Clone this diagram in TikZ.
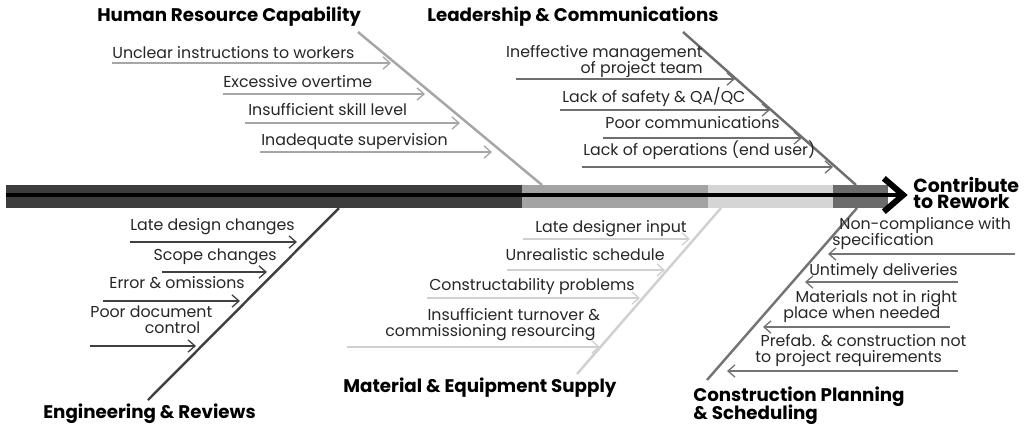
\documentclass[tikz,border=0pt]{standalone}
\usepackage{fontspec}
\setmainfont{Poppins}
\usetikzlibrary{arrows.meta}
\setlength{\lineskiplimit}{-20pt}
\definecolor{spineDark}{HTML}{3D3D3D}
\definecolor{spineMid}{HTML}{A3A3A3}
\definecolor{spineLight}{HTML}{D5D5D5}
\definecolor{spineGrey}{HTML}{6B6B6B}
\definecolor{hrGrey}{HTML}{A6A6A6}
\definecolor{leadGrey}{HTML}{6E6E6E}
\definecolor{engGrey}{HTML}{404040}
\definecolor{matGrey}{HTML}{D0D0D0}
\definecolor{conGrey}{HTML}{747474}
\begin{document}
\begin{tikzpicture}[x=0.02cm, y=-0.02cm,
  cause/.style={font=\fontsize{9}{8.8}\selectfont, inner sep=0pt, text=black!85, align=left},
  bonetitle/.style={font=\fontsize{10.4}{9.8}\selectfont\bfseries, inner sep=0pt, align=left},
  effectlabel/.style={font=\fontsize{10.8}{8.6}\selectfont\bfseries, inner sep=0pt, align=left},
  bone/.style={line width=1.4pt},
  causearrow/.style={line width=0.75pt, -{Straight Barb[length=4pt,width=7pt]}}]
  \useasboundingbox (0,0) rectangle (1032,424);

  \coordinate (hrTop) at (358,32);
  \coordinate (hrFoot) at (542,185);
  \coordinate (leadTop) at (683,32);
  \coordinate (leadFoot) at (856,185);
  \coordinate (engTop) at (339,208);
  \coordinate (engFoot) at (148,400);
  \coordinate (matTop) at (721,208);
  \coordinate (matFoot) at (577,374);
  \coordinate (conTop) at (857,208);
  \coordinate (conFoot) at (707,380);
  \draw[bone, hrGrey] (hrTop) -- (hrFoot);
  \draw[bone, leadGrey] (leadTop) -- (leadFoot);
  \draw[bone, engGrey] (engTop) -- (engFoot);
  \draw[bone, matGrey] (matTop) -- (matFoot);
  \draw[bone, conGrey] (conTop) -- (conFoot);

  \fill[spineDark] (6,185) rectangle (522,208);
  \fill[spineMid] (522,185) rectangle (708,208);
  \fill[spineLight] (708,185) rectangle (833,208);
  \fill[spineGrey] (833,185) rectangle (888,208);
  \coordinate (tail) at (6,195);
  \node[effectlabel, anchor=base west] (effect) at (913,208) {Contribute\\to Rework};
  \draw[line width=2.8pt, shorten >=3pt, -{Straight Barb[length=11pt,width=19pt,line width=3.4pt]}] (tail) -- (tail -| effect.west);

  \node[bonetitle, anchor=base west] (hr) at (97,21) {Human Resource Capability};
  \node[bonetitle, anchor=base west] (lead) at (427,21) {Leadership \& Communications};
  \node[bonetitle, anchor=base west] (eng) at (43,418) {Engineering \& Reviews};
  \node[bonetitle, anchor=base west] (mat) at (343,392) {Material \& Equipment Supply};
  \node[bonetitle, anchor=base west] (con) at (693,419) {Construction Planning\\\& Scheduling};

  \node[cause, anchor=base west] (hr1) at (112,58) {Unclear instructions to workers};
  \node[cause, anchor=base west] (hr2) at (223,87) {Excessive overtime};
  \node[cause, anchor=base west] (hr3) at (248,115) {Insufficient skill level};
  \node[cause, anchor=base west] (hr4) at (261,145) {Inadequate supervision};
  \coordinate (hr1a) at (112,63);
  \coordinate (hr1b) at (391,63);
  \coordinate (hr2a) at (223,94);
  \coordinate (hr2b) at (425,94);
  \coordinate (hr3a) at (245,123);
  \coordinate (hr3b) at (460,123);
  \coordinate (hr4a) at (260,152);
  \coordinate (hr4b) at (492,152);
  \draw[causearrow, hrGrey] (hr1a) -- (hr1b);
  \draw[causearrow, hrGrey] (hr2a) -- (hr2b);
  \draw[causearrow, hrGrey] (hr3a) -- (hr3b);
  \draw[causearrow, hrGrey] (hr4a) -- (hr4b);

  \node[cause, anchor=base east, align=right] (lead1) at (703,73) {Ineffective management\\of project team};
  \node[cause, anchor=base west] (lead2) at (562,102) {Lack of safety \& QA/QC};
  \node[cause, anchor=base west] (lead3) at (605,128) {Poor communications};
  \node[cause, anchor=base west] (lead4) at (583,155) {Lack of operations (end user)};
  \coordinate (lead1a) at (516,79);
  \coordinate (lead1b) at (735,79);
  \coordinate (lead2a) at (560,110);
  \coordinate (lead2b) at (770,110);
  \coordinate (lead3a) at (603,138);
  \coordinate (lead3b) at (802,138);
  \coordinate (lead4a) at (582,167);
  \coordinate (lead4b) at (833,167);
  \draw[causearrow, leadGrey] (lead1a) -- (lead1b);
  \draw[causearrow, leadGrey] (lead2a) -- (lead2b);
  \draw[causearrow, leadGrey] (lead3a) -- (lead3b);
  \draw[causearrow, leadGrey] (lead4a) -- (lead4b);

  \node[cause, anchor=base east] (eng1) at (295,230) {Late design changes};
  \node[cause, anchor=base east] (eng2) at (277,260) {Scope changes};
  \node[cause, anchor=base east] (eng3) at (245,288) {Error \& omissions};
  \node[cause, anchor=base west] (eng4) at (90,333) {Poor document\\\hspace*{31pt}control};
  \coordinate (eng1a) at (130,242);
  \coordinate (eng1b) at (297,242);
  \coordinate (eng2a) at (162,272);
  \coordinate (eng2b) at (267,272);
  \coordinate (eng3a) at (103,301);
  \coordinate (eng3b) at (240,301);
  \coordinate (eng4a) at (90,346);
  \coordinate (eng4b) at (196,346);
  \draw[causearrow, engGrey] (eng1a) -- (eng1b);
  \draw[causearrow, engGrey] (eng2a) -- (eng2b);
  \draw[causearrow, engGrey] (eng3a) -- (eng3b);
  \draw[causearrow, engGrey] (eng4a) -- (eng4b);

  \node[cause, anchor=base east] (mat1) at (687,232) {Late designer input};
  \node[cause, anchor=base east] (mat2) at (665,260) {Unrealistic schedule};
  \node[cause, anchor=base east] (mat3) at (635,290) {Constructability problems};
  \node[cause, anchor=base west] (mat4) at (385,336) {\hspace*{24pt}Insufficient turnover \&\\commissioning resourcing};
  \coordinate (mat1a) at (523,239);
  \coordinate (mat1b) at (690,239);
  \coordinate (mat2a) at (507,270);
  \coordinate (mat2b) at (665,270);
  \coordinate (mat3a) at (427,298);
  \coordinate (mat3b) at (640,298);
  \coordinate (mat4a) at (347,347);
  \coordinate (mat4b) at (600,347);
  \draw[causearrow, matGrey] (mat1a) -- (mat1b);
  \draw[causearrow, matGrey] (mat2a) -- (mat2b);
  \draw[causearrow, matGrey] (mat3a) -- (mat3b);
  \draw[causearrow, matGrey] (mat4a) -- (mat4b);

  \node[cause, anchor=base west] (con1) at (832,245) {\hspace*{4pt}Non-compliance with\\specification};
  \node[cause, anchor=base east] (con2) at (958,275) {Untimely deliveries};
  \node[cause, anchor=base west] (con3) at (783,318) {\hspace*{7pt}Materials not in right\\place when needed};
  \node[cause, anchor=base west] (con4) at (755,362) {\hspace*{3pt}Prefab. \& construction not\\to project requirements};
  \coordinate (con1a) at (1015,254);
  \coordinate (con1b) at (828,254);
  \coordinate (con2a) at (958,282);
  \coordinate (con2b) at (805,282);
  \coordinate (con3a) at (950,327);
  \coordinate (con3b) at (763,327);
  \coordinate (con4a) at (958,371);
  \coordinate (con4b) at (727,371);
  \draw[causearrow, conGrey] (con1a) -- (con1b);
  \draw[causearrow, conGrey] (con2a) -- (con2b);
  \draw[causearrow, conGrey] (con3a) -- (con3b);
  \draw[causearrow, conGrey] (con4a) -- (con4b);
\end{tikzpicture}
\end{document}
